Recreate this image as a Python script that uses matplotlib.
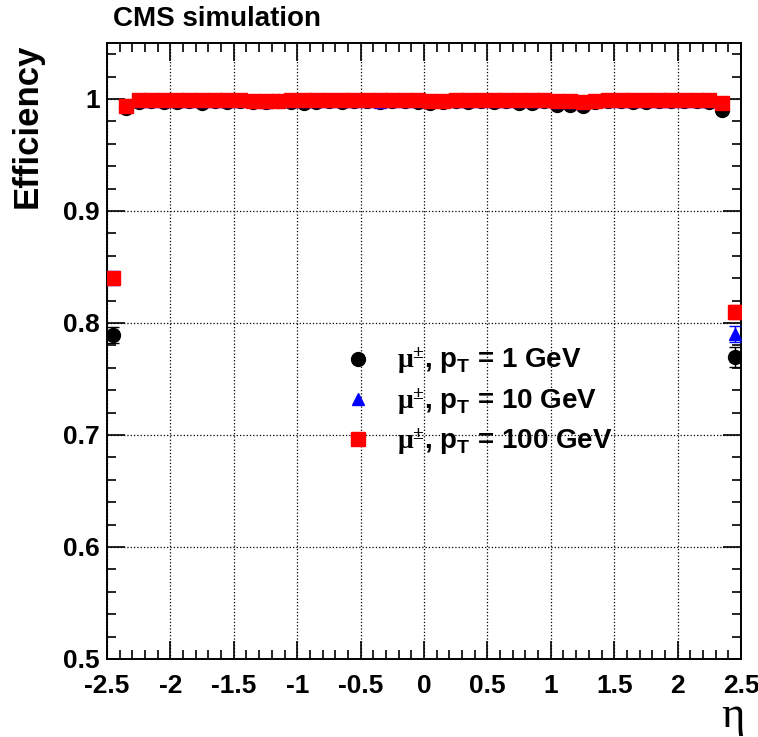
import matplotlib
matplotlib.use("Agg")
import matplotlib.pyplot as plt
from matplotlib.lines import Line2D
from matplotlib.ticker import MultipleLocator

plt.rcParams['font.family'] = ['Liberation Sans', 'DejaVu Sans']
plt.rcParams['font.weight'] = 'bold'
plt.rcParams['mathtext.fontset'] = 'custom'
plt.rcParams['mathtext.rm'] = 'Liberation Serif'
plt.rcParams['mathtext.bf'] = 'Liberation Sans:bold'

# bin centres in eta
eta = [-2.45, -2.35, -2.25, -2.15, -2.05, -1.95, -1.85, -1.75, -1.65, -1.55,
       -1.45, -1.35, -1.25, -1.15, -1.05, -0.95, -0.85, -0.75, -0.65, -0.55,
       -0.45, -0.35, -0.25, -0.15, -0.05, 0.05, 0.15, 0.25, 0.35, 0.45,
       0.55, 0.65, 0.75, 0.85, 0.95, 1.05, 1.15, 1.25, 1.35, 1.45,
       1.55, 1.65, 1.75, 1.85, 1.95, 2.05, 2.15, 2.25, 2.35, 2.45]

eff_1gev = [0.789, 0.992, 0.997, 0.998, 0.997, 0.997, 0.998, 0.996, 0.998, 0.997,
            0.998, 0.997, 0.997, 0.998, 0.997, 0.996, 0.997, 0.998, 0.997, 0.998,
            0.998, 0.997, 0.998, 0.998, 0.997, 0.996, 0.997, 0.998, 0.997, 0.998,
            0.997, 0.998, 0.996, 0.996, 0.998, 0.995, 0.995, 0.994, 0.997, 0.998,
            0.998, 0.997, 0.997, 0.998, 0.998, 0.998, 0.998, 0.997, 0.990, 0.770]
eff_10gev = [0.840, 0.995, 0.998, 0.998, 0.998, 0.998, 0.998, 0.998, 0.998, 0.998,
             0.998, 0.998, 0.997, 0.998, 0.998, 0.998, 0.998, 0.998, 0.998, 0.998,
             0.998, 0.997, 0.998, 0.998, 0.998, 0.998, 0.998, 0.998, 0.998, 0.998,
             0.998, 0.998, 0.998, 0.998, 0.998, 0.997, 0.997, 0.996, 0.998, 0.998,
             0.998, 0.998, 0.998, 0.998, 0.998, 0.998, 0.998, 0.998, 0.997, 0.790]
eff_100gev = [0.840, 0.994, 0.999, 0.999, 0.999, 0.999, 0.999, 0.999, 0.999, 0.999,
              0.999, 0.998, 0.998, 0.998, 0.999, 0.999, 0.999, 0.999, 0.999, 0.999,
              0.999, 0.999, 0.999, 0.999, 0.999, 0.998, 0.998, 0.999, 0.999, 0.999,
              0.999, 0.999, 0.999, 0.999, 0.999, 0.998, 0.998, 0.997, 0.998, 0.999,
              0.999, 0.999, 0.999, 0.999, 0.999, 0.999, 0.999, 0.999, 0.996, 0.810]
err_1gev = [0.007] + [0.001] * 48 + [0.009]
err_10gev = [0.006] + [0.001] * 48 + [0.007]
err_100gev = [0.005] + [0.001] * 48 + [0.006]

labels = [r"$\mathrm{\mu^{\pm}}$, p$_\mathbf{T}$ = 1 GeV",
          r"$\mathrm{\mu^{\pm}}$, p$_\mathbf{T}$ = 10 GeV",
          r"$\mathrm{\mu^{\pm}}$, p$_\mathbf{T}$ = 100 GeV"]

fig = plt.figure(figsize=(7.58, 7.37), dpi=100)
ax = fig.add_axes([107 / 758, 78 / 737, 634 / 758, 616 / 737])

ax.errorbar(eta, eff_1gev, yerr=err_1gev, fmt='o', color='black', ms=10,
            capsize=4, elinewidth=1, zorder=3)
ax.errorbar(eta, eff_10gev, yerr=err_10gev, fmt='^', color='blue', ms=8.5,
            capsize=4, elinewidth=1, zorder=4)
ax.errorbar(eta, eff_100gev, yerr=err_100gev, fmt='s', color='red', ms=9.5,
            capsize=4, elinewidth=1, zorder=5)

ax.set_xlim(-2.5, 2.5)
ax.set_ylim(0.5, 1.05)
ax.xaxis.set_minor_locator(MultipleLocator(0.1))
ax.yaxis.set_minor_locator(MultipleLocator(0.02))
ax.set_xticks([-2.5, -2, -1.5, -1, -0.5, 0, 0.5, 1, 1.5, 2, 2.5])
ax.set_xticklabels(['-2.5', '-2', '-1.5', '-1', '-0.5', '0', '0.5', '1', '1.5', '2', '2.5'])
ax.set_yticks([0.5, 0.6, 0.7, 0.8, 0.9, 1.0])
ax.set_yticklabels(['0.5', '0.6', '0.7', '0.8', '0.9', '1'])
ax.tick_params(which='both', direction='in', top=True, right=True, width=1.2,
               labelsize=19)
ax.tick_params(which='major', length=13)
ax.tick_params(axis='x', which='major', pad=11)
ax.tick_params(axis='y', which='major', pad=5)
ax.tick_params(which='minor', length=6.5)
ax.grid(True, which='major', color='black', linestyle=':', linewidth=0.9)
for s in ax.spines.values():
    s.set_linewidth(1.4)

handles = [Line2D([], [], ls='none', marker='o', color='black', ms=10),
           Line2D([], [], ls='none', marker='^', color='blue', ms=8.5),
           Line2D([], [], ls='none', marker='s', color='red', ms=9.5)]
ax.legend(handles=handles, labels=labels, loc='upper left',
          bbox_to_anchor=(316 / 758, 1 - 321 / 737),
          bbox_transform=fig.transFigure, frameon=False,
          fontsize=20, handlelength=1.2, handletextpad=0.8,
          labelspacing=0.36)

fig.text(113 / 758, 1 - 19 / 737, "CMS simulation", fontsize=20,
         fontweight='bold', va='center', ha='left')
fig.text(27 / 758, 1 - 43 / 737, "Efficiency", fontsize=25,
         fontweight='bold', rotation=90, va='top', ha='center')
fig.text(733 / 758, 1 - 716 / 737, "η", fontsize=32, family='Liberation Serif',
         fontweight='normal', va='center', ha='center')

fig.savefig("out.png", dpi=100)
